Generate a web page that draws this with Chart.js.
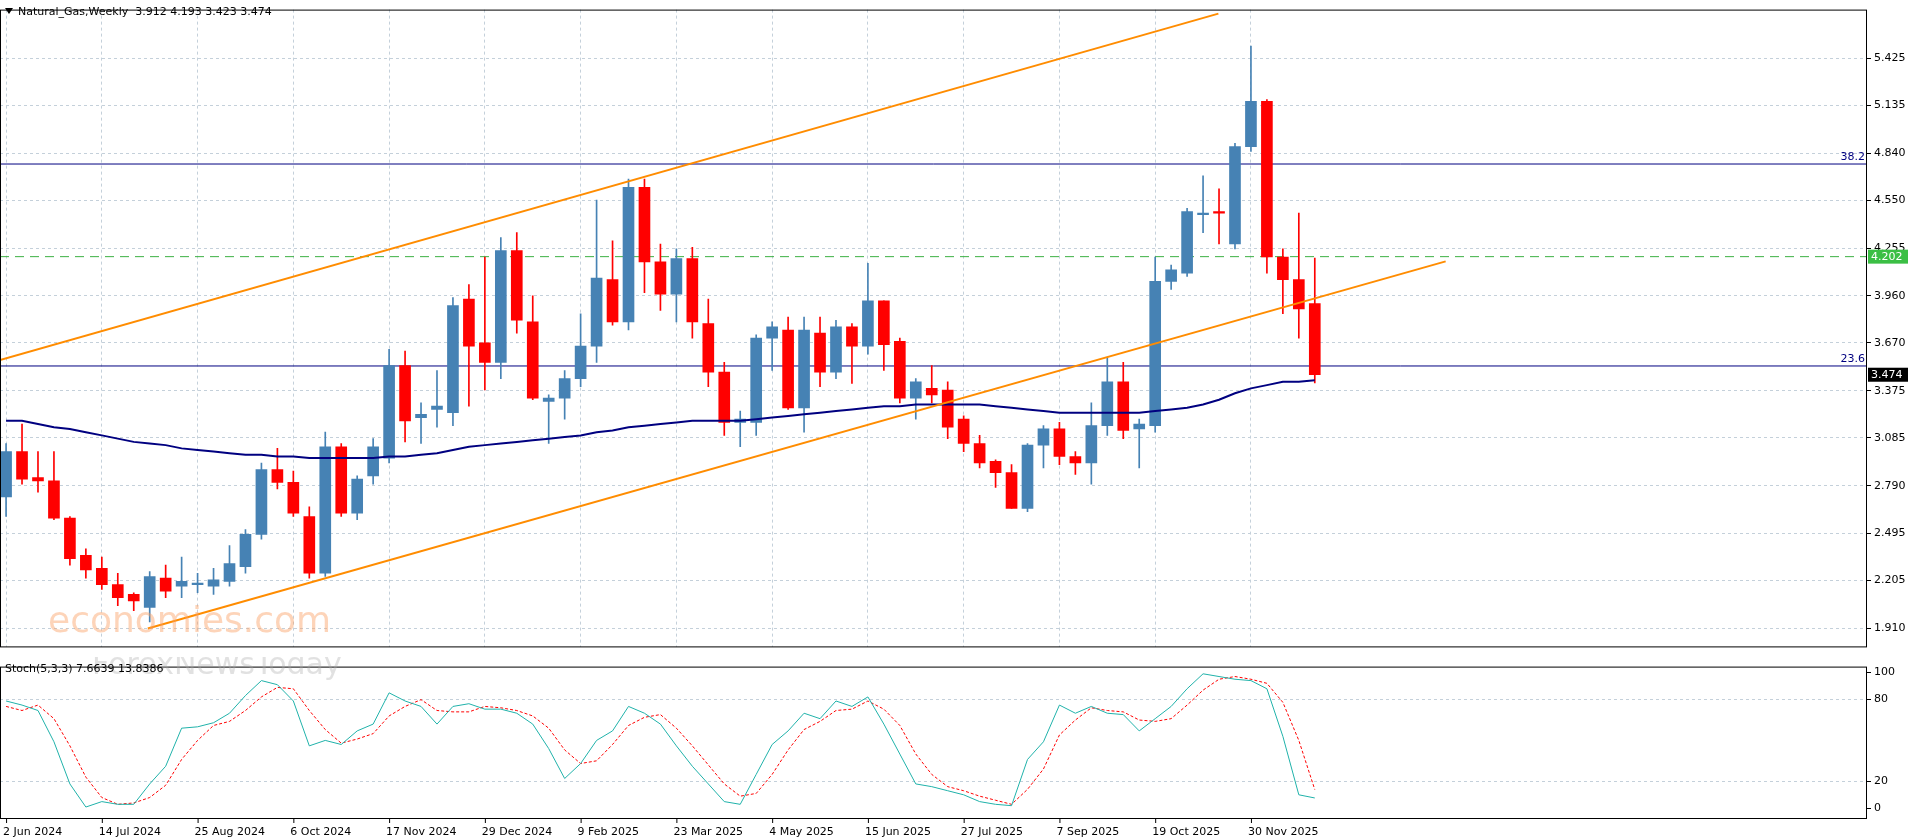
<!DOCTYPE html>
<html><head><meta charset="utf-8">
<script src="https://cdn.jsdelivr.net/npm/chart.js@4.4.0/dist/chart.umd.min.js"></script>
<style>
html,body{margin:0;padding:0;background:#fff;overflow:hidden}
canvas{position:absolute;left:0}
#c1{top:0}
#c2{top:657px}
</style></head><body>
<canvas id="c1" width="1916" height="657" style="width:1916px;height:657px"></canvas>
<canvas id="c2" width="1916" height="183" style="width:1916px;height:183px"></canvas>
<script>
const opens=[2.72,3.00,2.84,2.82,2.59,2.36,2.28,2.18,2.12,2.04,2.22,2.17,2.18,2.17,2.20,2.29,2.49,2.89,2.81,2.60,2.25,3.03,2.62,2.85,2.96,3.53,3.21,3.26,3.24,3.94,3.67,3.55,4.24,3.80,3.31,3.33,3.45,3.65,4.06,3.80,4.63,4.17,3.97,4.19,3.79,3.49,3.18,3.18,3.70,3.75,3.27,3.73,3.49,3.77,3.65,3.93,3.68,3.33,3.39,3.38,3.20,3.05,2.94,2.87,2.65,3.04,3.14,2.97,2.93,3.16,3.43,3.14,3.16,4.05,4.10,4.46,4.48,4.28,4.88,5.16,4.20,4.06,3.912];
const highs=[3.05,3.17,3.00,3.00,2.60,2.40,2.35,2.25,2.13,2.26,2.30,2.35,2.25,2.28,2.42,2.52,2.93,3.02,2.88,2.66,3.12,3.05,2.85,3.08,3.63,3.62,3.30,3.50,3.95,4.03,4.20,4.32,4.35,3.96,3.35,3.50,3.85,4.55,4.30,4.68,4.68,4.28,4.25,4.26,3.94,3.55,3.25,3.72,3.80,3.83,3.83,3.83,3.81,3.79,4.16,3.93,3.70,3.45,3.53,3.43,3.22,3.10,2.95,2.92,3.05,3.16,3.18,3.00,3.30,3.58,3.55,3.20,4.20,4.15,4.50,4.70,4.62,4.90,5.50,5.17,4.25,4.47,4.193];
const lows=[2.60,2.80,2.75,2.58,2.30,2.22,2.15,2.05,2.02,1.95,2.10,2.10,2.13,2.12,2.17,2.25,2.46,2.77,2.60,2.22,2.23,2.60,2.58,2.80,2.93,3.06,3.05,3.15,3.16,3.28,3.38,3.45,3.73,3.32,3.05,3.20,3.40,3.55,3.78,3.75,3.98,3.87,3.80,3.70,3.40,3.10,3.03,3.10,3.50,3.26,3.12,3.40,3.45,3.42,3.60,3.50,3.30,3.20,3.30,3.08,3.00,2.90,2.78,2.65,2.63,2.90,2.92,2.86,2.80,3.10,3.08,2.90,3.12,4.00,4.08,4.35,4.28,4.25,4.85,4.10,3.85,3.70,3.423];
const closes=[3.00,2.83,2.82,2.59,2.34,2.27,2.18,2.10,2.08,2.23,2.14,2.20,2.19,2.21,2.31,2.49,2.89,2.81,2.62,2.25,3.03,2.62,2.83,3.03,3.53,3.19,3.23,3.28,3.90,3.65,3.55,4.24,3.81,3.33,3.33,3.45,3.65,4.07,3.80,4.63,4.17,3.97,4.19,3.80,3.49,3.18,3.20,3.70,3.77,3.27,3.75,3.49,3.77,3.65,3.93,3.66,3.33,3.43,3.35,3.15,3.05,2.93,2.87,2.65,3.04,3.14,2.97,2.93,3.16,3.43,3.13,3.17,4.05,4.12,4.48,4.47,4.47,4.88,5.16,4.20,4.06,3.88,3.474];
const maValues=[3.19,3.19,3.17,3.15,3.14,3.12,3.10,3.08,3.06,3.05,3.04,3.02,3.01,3.00,2.99,2.98,2.98,2.97,2.97,2.96,2.96,2.96,2.96,2.96,2.97,2.97,2.98,2.99,3.01,3.03,3.04,3.05,3.06,3.07,3.08,3.09,3.10,3.12,3.13,3.15,3.16,3.17,3.18,3.19,3.19,3.19,3.19,3.20,3.21,3.22,3.23,3.24,3.25,3.26,3.27,3.28,3.28,3.29,3.29,3.29,3.29,3.29,3.28,3.27,3.26,3.25,3.24,3.24,3.24,3.24,3.24,3.24,3.25,3.26,3.27,3.29,3.32,3.36,3.39,3.41,3.43,3.43,3.44];
const stochK=[79,76,72,49,18,1,5,3,3,18,31,59,60,63,70,83,94,91,79,46,50,47,57,62,85,79,75,62,75,77,73,73,70,62,44,22,33,50,57,75,70,62,46,31,18,5,3,25,47,57,70,66,79,75,82,62,40,18,16,13,10,5,3,2,36,49,76,70,75,70,69,57,66,75,88,99,97,95,94,88,53,10,7.66];
const stochD=[75,72,76,66,46,23,8,3,4,8,17,36,50,61,64,72,82,89,88,72,58,48,51,55,68,75,80,72,71,71,75,74,72,68,59,43,33,35,47,61,67,69,59,46,32,18,9,11,25,43,58,64,72,73,79,73,61,40,25,16,13,9,6,3,14,29,54,65,74,72,71,65,64,66,76,87,95,97,95,92,78,50,13.84];
const priceTicks=[1.910,2.205,2.495,2.790,3.085,3.375,3.670,3.960,4.255,4.550,4.840,5.135,5.425];
const stochTicks=[0,20,80,100];
const dateLabels=['2 Jun 2024','14 Jul 2024','25 Aug 2024','6 Oct 2024','17 Nov 2024','29 Dec 2024','9 Feb 2025','23 Mar 2025','4 May 2025','15 Jun 2025','27 Jul 2025','7 Sep 2025','19 Oct 2025','30 Nov 2025'];
const upperChannel=[{x:-0.38,y:3.565},{x:75.96,y:5.70}];
const lowerChannel=[{x:8.88,y:1.91},{x:90.2,y:4.173}];
const fib382=4.773, fib236=3.528, bidLine=4.202;

const UP='#4682B4', DN='#FF0000', FONT='11px "DejaVu Sans", sans-serif';
const XMIN=-0.38, XMAX=116.6;
const idx=opens.map((_,i)=>i);
const cols=idx.map(i=>closes[i]>=opens[i]?UP:DN);
const bodies=idx.map(i=>{let a=opens[i],b=closes[i];if(Math.abs(a-b)<0.006){b=a+0.006;}return {x:i,y:[a,b]};});
const wicks=idx.map(i=>({x:i,y:[lows[i],highs[i]]}));
const hline=v=>[{x:XMIN,y:v},{x:XMAX,y:v}];
const fixW=s=>{s.width=49;};
const fixH=s=>{s.height=0;};
const xTicks=s=>{s.ticks=dateLabels.map((_,k)=>({value:k*6}));};

const deco1={id:'deco1',afterDatasetsDraw(c){
  const g=c.ctx,a=c.chartArea,y=c.scales.y;
  g.save();
  g.strokeStyle='#000';g.lineWidth=1;g.strokeRect(a.left+0.5,a.top+0.5,a.width-1,a.height-1);
  g.font=FONT;g.fillStyle='#000';g.textBaseline='middle';
  g.beginPath();g.moveTo(5,8);g.lineTo(13,8);g.lineTo(9,14);g.closePath();g.fill();
  g.fillText('Natural_Gas,Weekly  3.912 4.193 3.423 3.474',18,12);
  g.fillStyle='#000080';g.textAlign='right';g.textBaseline='bottom';
  g.fillText('38.2',a.right-2,y.getPixelForValue(fib382)-1);
  g.fillText('23.6',a.right-2,y.getPixelForValue(fib236)-1);
  g.textAlign='left';g.textBaseline='middle';
  const box=(v,bg,t)=>{const py=y.getPixelForValue(v);g.fillStyle=bg;g.fillRect(a.right+1,py-7,40,14);g.fillStyle='#fff';g.fillText(t,a.right+4,py);};
  box(bidLine,'#3bbf45','4.202');box(3.474,'#000','3.474');
  g.font='36px "DejaVu Sans", sans-serif';g.fillStyle='rgba(250,160,100,0.45)';g.textBaseline='alphabetic';
  g.fillText('economies.com',48,632);
  g.restore();}};
const deco2={id:'deco2',afterDatasetsDraw(c){
  const g=c.ctx,a=c.chartArea,x=c.scales.x;
  g.save();
  g.strokeStyle='#000';g.lineWidth=1;g.strokeRect(a.left+0.5,a.top+0.5,a.width-1,a.height-1);
  g.font='30px "DejaVu Sans", sans-serif';g.fillStyle='rgba(170,170,170,0.35)';g.textBaseline='top';
  g.fillText('ForexNewsToday',92,-6);
  g.font=FONT;g.fillStyle='#000';g.textBaseline='middle';
  g.fillText('Stoch(5,3,3) 7.6639 13.8386',5,12);
  g.textBaseline='alphabetic';
  dateLabels.forEach((t,k)=>{const px=x.getPixelForValue(k*6);g.fillText(t,Math.max(2,px-3),c.height-5);
    g.beginPath();g.moveTo(px+0.5,a.bottom);g.lineTo(px+0.5,a.bottom+4);g.stroke();});
  g.restore();}};

const grid={color:'#c4d0da',tickColor:'#000',tickLength:4};
new Chart(document.getElementById('c1'),{type:'bar',
 data:{datasets:[
  {type:'line',data:hline(bidLine),borderColor:'#3cb043',borderWidth:1,borderDash:[9,6],pointRadius:0,order:5},
  {type:'line',data:hline(fib382),borderColor:'#000080',borderWidth:1,pointRadius:0,order:5},
  {type:'line',data:hline(fib236),borderColor:'#000080',borderWidth:1,pointRadius:0,order:5},
  {data:wicks,backgroundColor:cols,barThickness:1,grouped:false,order:3},
  {data:bodies,backgroundColor:cols,barThickness:11,grouped:false,order:2},
  {type:'line',data:maValues.map((v,i)=>({x:i,y:v})),borderColor:'#000080',borderWidth:2,pointRadius:0,order:1},
  {type:'line',data:upperChannel,borderColor:'#FF8C00',borderWidth:2,pointRadius:0,order:0},
  {type:'line',data:lowerChannel,borderColor:'#FF8C00',borderWidth:2,pointRadius:0,order:0}
 ]},
 options:{responsive:false,animation:false,events:[],
  layout:{padding:0},
  plugins:{legend:{display:false},tooltip:{enabled:false}},
  scales:{
   x:{type:'linear',offset:false,min:XMIN,max:XMAX,afterBuildTicks:xTicks,afterFit:fixH,ticks:{display:false},grid:{color:'#c4d0da',drawTicks:false,offset:false},border:{display:false,dash:[3,3]}},
   y:{position:'right',min:1.793,max:5.725,afterBuildTicks:s=>{s.ticks=priceTicks.map(v=>({value:v}));},afterFit:fixW,
      ticks:{font:{family:'DejaVu Sans',size:11},color:'#000',padding:3,callback:v=>v.toFixed(3)},grid:grid,border:{display:false,dash:[3,3]}}
  }},
 plugins:[deco1]});

new Chart(document.getElementById('c2'),{type:'line',
 data:{datasets:[
  {data:stochK.map((v,i)=>({x:i,y:v})),borderColor:'#20B2AA',borderWidth:1,pointRadius:0},
  {data:stochD.map((v,i)=>({x:i,y:v})),borderColor:'#FF0000',borderWidth:1,borderDash:[3,2],pointRadius:0}
 ]},
 options:{responsive:false,animation:false,events:[],
  layout:{padding:{top:3,bottom:21}},
  plugins:{legend:{display:false},tooltip:{enabled:false}},
  scales:{
   x:{type:'linear',min:XMIN,max:XMAX,afterFit:fixH,ticks:{display:false},grid:{display:false},border:{display:false}},
   y:{position:'right',min:-7.8,max:104.3,afterBuildTicks:s=>{s.ticks=stochTicks.map(v=>({value:v}));},afterFit:fixW,
      ticks:{font:{family:'DejaVu Sans',size:11},color:'#000',padding:3},
      grid:{color:['rgba(0,0,0,0)','#c4d0da','#c4d0da','rgba(0,0,0,0)'],tickColor:'#000',tickLength:4},border:{display:false,dash:[3,3]}}
  }},
 plugins:[deco2]});
</script></body></html>
